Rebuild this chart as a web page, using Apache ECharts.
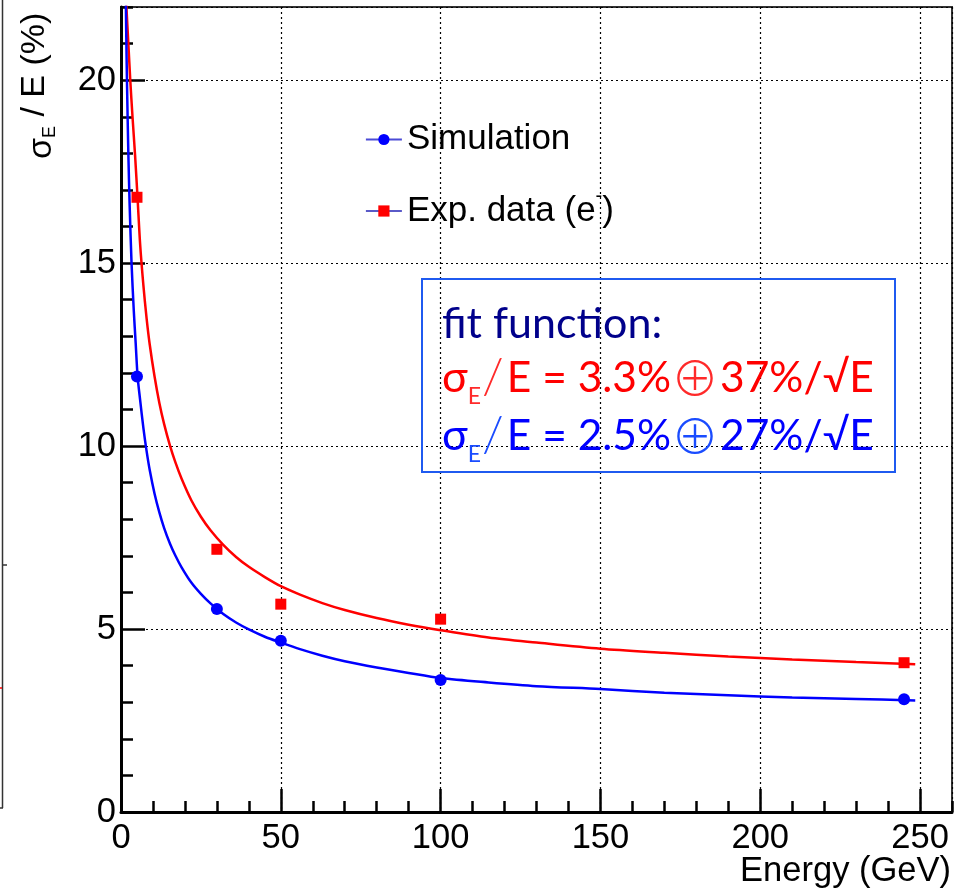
<!DOCTYPE html>
<html>
<head>
<meta charset="utf-8">
<script src="https://cdn.jsdelivr.net/npm/echarts@6/dist/echarts.min.js"></script>
<style>
  html, body { margin: 0; padding: 0; background: #fff; }
  #chart { width: 961px; height: 890px; }
</style>
</head>
<body>
<div id="chart"></div>
<script>
// ---- data ----
const energySim = [5, 30, 50, 100, 245];
const sigmaSim = [11.9, 5.55, 4.68, 3.61, 3.08];
const energyExp = [5, 30, 50, 100, 245];
const sigmaExp = [16.8, 7.18, 5.68, 5.27, 4.08];

// fit curves, sampled by eye along the drawn lines
const fitEnergyExp = [1.5, 1.7, 2.3, 2.9, 3.6, 4.4, 5.2, 6.0, 7.0, 8.0, 9.0, 10.5, 12, 13.5, 15.3, 17, 19, 22, 25, 28, 32, 36, 40, 45, 50, 56, 63, 70, 80, 90, 100, 115, 130, 150, 170, 190, 210, 230, 248.5];
const fitSigmaExp = [22.4, 22.0, 21.0, 20.0, 19.0, 17.95, 16.75, 15.5, 14.4, 13.5, 12.77, 11.9, 11.18, 10.6, 10.02, 9.56, 9.1, 8.52, 8.07, 7.7, 7.3, 6.97, 6.7, 6.42, 6.17, 5.94, 5.71, 5.52, 5.3, 5.12, 4.97, 4.77, 4.63, 4.46, 4.35, 4.25, 4.17, 4.1, 4.04];
const fitEnergySim = [1.4, 1.6, 1.9, 2.3, 2.7, 3.3, 4.0, 4.6, 5.2, 6.0, 7.0, 8.0, 9.0, 10.5, 12, 13.5, 15.3, 17, 19, 22, 25, 28, 32, 36, 40, 45, 50, 56, 63, 70, 80, 90, 100, 115, 130, 150, 170, 190, 210, 230, 248.5];
const fitSigmaSim = [23.0, 21.5, 19.8, 18.0, 16.6, 15.0, 13.7, 12.8, 11.9, 11.25, 10.5, 9.87, 9.34, 8.7, 8.19, 7.76, 7.34, 7.01, 6.68, 6.27, 5.96, 5.7, 5.41, 5.18, 4.99, 4.79, 4.63, 4.45, 4.27, 4.12, 3.95, 3.8, 3.66, 3.54, 3.44, 3.36, 3.26, 3.19, 3.13, 3.09, 3.05];

const xTicks = { min: 0, max: 260, major: 50, minor: 10 };
const yTicks = { min: 0, max: 22, major: 5, minor: 1 };

const seriesNames = ['Simulation', 'Exp. data (e-)'];

const zip = (a, b) => a.map((v, i) => [v, b[i]]);

const FONT = 'Liberation Sans, Arial, Helvetica, sans-serif';
const BOXFONT = 'Lato, "Open Sans", sans-serif';
const OPFONT = '"Noto Sans CJK SC", "DejaVu Sans", sans-serif';

const chart = echarts.init(document.getElementById('chart'), null, { renderer: 'canvas' });

const axisLabelStyle = { fontSize: 34.5, fontFamily: FONT, color: '#000' };

function fitRich(mainColor, accentColor) {
  return {
    s: { fontSize: 43, fontFamily: BOXFONT, fill: mainColor, lineHeight: 60, verticalAlign: 'middle' },
    sub: { fontSize: 23, fontFamily: BOXFONT, fill: accentColor, lineHeight: 20, verticalAlign: 'bottom' },
    sl: { fontSize: 50, fontFamily: BOXFONT, fontWeight: 300, fill: accentColor, lineHeight: 60, verticalAlign: 'middle', padding: [0, 3, 0, 1] },
    t: { fontSize: 42.5, fontFamily: BOXFONT, fill: mainColor, lineHeight: 60, verticalAlign: 'middle' },
    op: { fontSize: 48, fontFamily: OPFONT, fontWeight: 300, fill: accentColor, lineHeight: 60, verticalAlign: 'middle', padding: [0, 1, 0, 0] }
  };
}

const option = {
  backgroundColor: '#fff',
  animation: false,
  grid: {
    left: 121, right: 9, top: 7, bottom: 78,
    show: true, borderColor: '#333', borderWidth: 2, backgroundColor: 'transparent'
  },
  xAxis: [
    {
      type: 'value', position: 'bottom', min: xTicks.min, max: xTicks.max, interval: xTicks.major,
      axisLine: { onZero: false, lineStyle: { color: '#000', width: 3 } },
      axisTick: { inside: true, length: 23, lineStyle: { color: '#000', width: 2.5 } },
      axisLabel: Object.assign({ margin: 9, showMaxLabel: false }, axisLabelStyle),
      splitLine: { show: true, lineStyle: { color: '#000', width: 1.2, type: [2, 3] } }
    },
    {
      type: 'value', position: 'bottom', min: xTicks.min, max: xTicks.max, interval: xTicks.minor,
      axisLine: { show: false, onZero: false },
      axisTick: { inside: true, length: 11, lineStyle: { color: '#000', width: 2.5 } },
      axisLabel: { show: false },
      splitLine: { show: false }
    }
  ],
  yAxis: [
    {
      type: 'value', position: 'left', min: yTicks.min, max: yTicks.max, interval: yTicks.major,
      axisLine: { onZero: false, lineStyle: { color: '#000', width: 3 } },
      axisTick: { inside: true, length: 24, lineStyle: { color: '#000', width: 2.5 } },
      axisLabel: Object.assign({ margin: 5, showMaxLabel: false }, axisLabelStyle),
      splitLine: { show: true, lineStyle: { color: '#000', width: 1.2, type: [2, 3] } }
    },
    {
      type: 'value', position: 'left', min: yTicks.min, max: yTicks.max, interval: yTicks.minor,
      axisLine: { show: false, onZero: false },
      axisTick: { inside: true, length: 12, lineStyle: { color: '#000', width: 2.5 } },
      axisLabel: { show: false },
      splitLine: { show: false }
    }
  ],
  legend: {
    orient: 'vertical',
    left: 365, top: 122, padding: 0,
    itemWidth: 36, itemHeight: 14, itemGap: 29,
    selectedMode: false,
    data: [
      { name: seriesNames[0], lineStyle: { color: '#4b4bd6', width: 1.8, opacity: 1, type: 'solid' } },
      { name: seriesNames[1], lineStyle: { color: '#5a5ac8', width: 1.8, opacity: 1, type: 'solid' } }
    ],
    formatter: function (name) {
      if (name === seriesNames[1]) return '{n|Exp. data (e}{sup|-}{n|)}';
      return '{n|' + name + '}';
    },
    textStyle: {
      color: '#000', fontFamily: FONT, fontSize: 35,
      rich: {
        n: { fontSize: 35, fontFamily: FONT, color: '#000', lineHeight: 50, verticalAlign: 'middle' },
        sup: { fontSize: 20, fontFamily: FONT, color: '#000', lineHeight: 10, verticalAlign: 'top' }
      }
    }
  },
  series: [
    {
      name: 'fitExp', type: 'line', xAxisIndex: 0, yAxisIndex: 0,
      data: zip(fitEnergyExp, fitSigmaExp),
      showSymbol: false, symbol: 'none', smooth: 0.3, clip: true,
      lineStyle: { color: '#ff0000', width: 2.5 }, z: 2, silent: true
    },
    {
      name: 'fitSim', type: 'line', xAxisIndex: 0, yAxisIndex: 0,
      data: zip(fitEnergySim, fitSigmaSim),
      showSymbol: false, symbol: 'none', smooth: 0.3, clip: true,
      lineStyle: { color: '#0000ff', width: 2.5 }, z: 2, silent: true
    },
    {
      name: seriesNames[0], type: 'line', xAxisIndex: 0, yAxisIndex: 0,
      data: zip(energySim, sigmaSim),
      symbol: 'circle', symbolSize: 12, showSymbol: true,
      itemStyle: { color: '#0000ff' },
      lineStyle: { width: 0, opacity: 0 }, z: 5
    },
    {
      name: seriesNames[1], type: 'line', xAxisIndex: 0, yAxisIndex: 0,
      data: zip(energyExp, sigmaExp),
      symbol: 'rect', symbolSize: 11, showSymbol: true,
      itemStyle: { color: '#ff0000' },
      lineStyle: { width: 0, opacity: 0 }, z: 5
    }
  ],
  graphic: [
    // fragment of neighbouring frame at the very left edge
    { type: 'line', shape: { x1: 2.5, y1: 0, x2: 2.5, y2: 808 }, style: { stroke: '#333', lineWidth: 1.5 }, silent: true },
    { type: 'line', shape: { x1: 0, y1: 808, x2: 3, y2: 808 }, style: { stroke: '#333', lineWidth: 1.5 }, silent: true },
    { type: 'line', shape: { x1: 2.5, y1: 565, x2: 7, y2: 565 }, style: { stroke: '#333', lineWidth: 1.5 }, silent: true },
    { type: 'line', shape: { x1: 0, y1: 688, x2: 2, y2: 688 }, style: { stroke: '#ff0000', lineWidth: 1.5 }, silent: true },
    // y axis title (reads bottom to top)
    {
      type: 'text', x: 35, y: 159, rotation: Math.PI / 2,
      style: {
        text: '{s|σ}{sub|E}{n| / E (%)}',
        align: 'left', verticalAlign: 'middle',
        rich: {
          s: { fontSize: 34, fontFamily: FONT, fill: '#000', lineHeight: 32, verticalAlign: 'bottom' },
          sub: { fontSize: 18, fontFamily: FONT, fill: '#000', lineHeight: 16, verticalAlign: 'bottom' },
          n: { fontSize: 34, fontFamily: FONT, fill: '#000', lineHeight: 48, verticalAlign: 'middle' }
        }
      },
      silent: true
    },
    // x axis title
    {
      type: 'text', x: 951, y: 871,
      style: { text: 'Energy (GeV)', align: 'right', verticalAlign: 'middle', fontSize: 34.5, fontFamily: FONT, fill: '#000' },
      silent: true
    },
    // fit function box
    {
      type: 'rect', shape: { x: 422, y: 279, width: 473, height: 193 },
      style: { fill: 'none', stroke: '#1f5af0', lineWidth: 2 }, silent: true, z: 10
    },
    {
      type: 'text', x: 442, y: 324, z: 10,
      style: { text: 'fit function:', align: 'left', verticalAlign: 'middle', fontSize: 43, fontFamily: BOXFONT, fill: '#00008b' },
      silent: true
    },
    {
      type: 'text', x: 442, y: 378, z: 10,
      style: {
        text: '{s|σ}{sub|E}{sl|/}{t|E = 3.3%}{op|⊕}{t|37%/√E}',
        align: 'left', verticalAlign: 'middle',
        rich: fitRich('#ff0000', '#ff2a2a')
      },
      silent: true
    },
    {
      type: 'text', x: 442, y: 436, z: 10,
      style: {
        text: '{s|σ}{sub|E}{sl|/}{t|E = 2.5%}{op|⊕}{t|27%/√E}',
        align: 'left', verticalAlign: 'middle',
        rich: fitRich('#0000ff', '#1a4cff')
      },
      silent: true
    }
  ]
};

chart.setOption(option);
</script>
</body>
</html>
